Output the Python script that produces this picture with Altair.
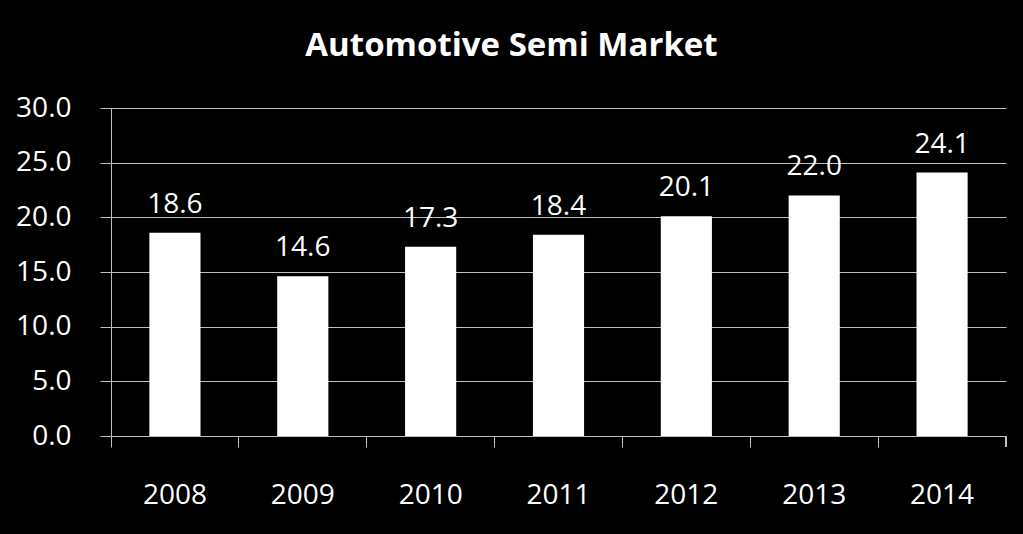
import altair as alt
import pandas as pd

years = ["2008", "2009", "2010", "2011", "2012", "2013", "2014"]
values = [18.6, 14.6, 17.3, 18.4, 20.1, 22.0, 24.1]
labels = ["18.6", "14.6", "17.3", "18.4", "20.1", "22.0", "24.1"]

df = pd.DataFrame({"year": years, "value": values, "label": labels})

FONT = "Open Sans"
W, H = 895, 328

x = alt.X("year:N", title=None, sort=years,
          scale=alt.Scale(paddingInner=0, paddingOuter=0),
          axis=alt.Axis(labelAngle=0, labelFont=FONT, labelFontSize=28, labelColor="white",
                        labelBaseline="alphabetic", labelPadding=56,
                        tickSize=11, tickColor="#bfbfbf", bandPosition=0,
                        domain=True, domainColor="#bfbfbf", grid=False))
y = alt.Y("value:Q", title=None,
          scale=alt.Scale(domain=[0, 30], nice=False),
          axis=alt.Axis(values=[0, 5, 10, 15, 20, 25, 30], format=".1f",
                        labelFont=FONT, labelFontSize=28, labelColor="white",
                        labelPadding=29, tickSize=11, tickColor="#bfbfbf",
                        domainColor="#bfbfbf", gridColor="#bfbfbf", gridWidth=1))

bars = alt.Chart(df).mark_bar(color="white", width=alt.RelativeBandSize(0.40)).encode(x=x, y=y)
text = alt.Chart(df).mark_text(color="white", font=FONT, fontSize=28, baseline="alphabetic", dy=-20).encode(
    x=alt.X("year:N", sort=years), y="value:Q", text="label:N")
endtick = alt.Chart(df).mark_rule(color="#bfbfbf").encode(
    x=alt.value(W), y=alt.value(H), y2=alt.value(H + 11))

chart = alt.layer(bars, text, endtick).properties(
    width=W, height=H,
    autosize=alt.AutoSizeParams(type="none"),
    padding={"left": 111, "top": 108, "right": 17, "bottom": 98},
    background="black",
    title=alt.TitleParams("Automotive Semi Market", font=FONT, fontSize=33, fontWeight="bold",
                          color="white", anchor="middle", dx=-47, offset=31),
).configure_view(stroke=None)

chart.save("out.html", embed_options={"renderer": "svg", "actions": False})
